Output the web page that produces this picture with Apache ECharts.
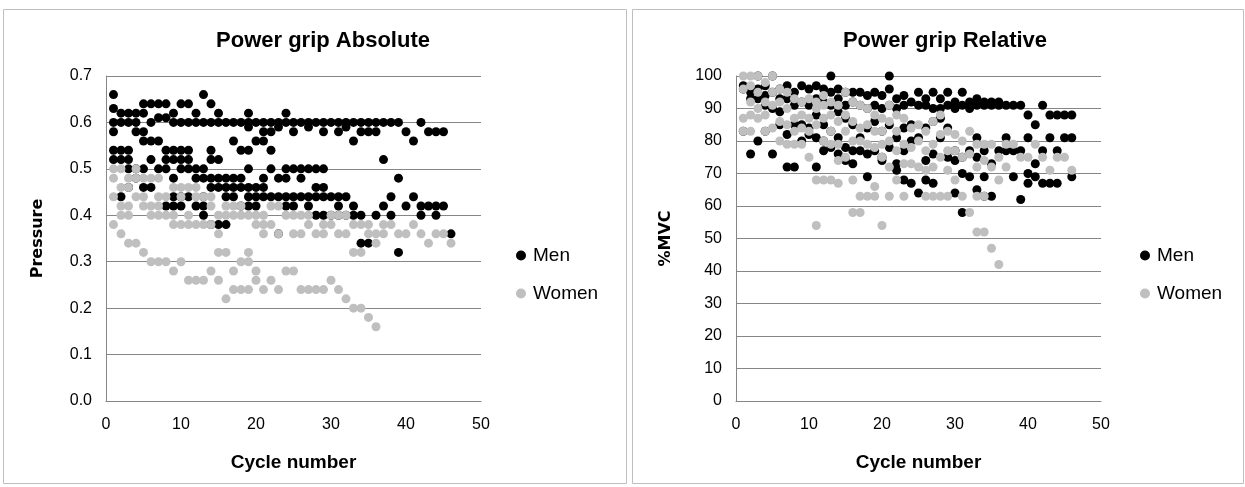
<!DOCTYPE html>
<html><head><meta charset="utf-8">
<script src="https://cdn.jsdelivr.net/npm/echarts@6/dist/echarts.min.js"></script>
<style>html,body{margin:0;padding:0;background:#fff}#c{width:1245px;height:487px}</style>
</head><body><div id="c"></div>
<script>
// Power grip Absolute (Pressure) — [cycle, value]
const menAbs = [
 [1,0.66],[1,0.63],[1,0.60],[1,0.58],[1,0.54],[1,0.52],
 [2,0.62],[2,0.60],[2,0.54],[2,0.52],[2,0.44],
 [3,0.62],[3,0.60],[3,0.54],[3,0.52],[3,0.50],[3,0.46],
 [4,0.62],[4,0.60],[4,0.58],[4,0.50],[4,0.48],
 [5,0.64],[5,0.62],[5,0.58],[5,0.56],[5,0.50],[5,0.46],
 [6,0.64],[6,0.60],[6,0.56],[6,0.52],[6,0.46],
 [7,0.64],[7,0.61],[7,0.56],[7,0.50],
 [8,0.64],[8,0.61],[8,0.54],[8,0.52],[8,0.50],[8,0.42],
 [9,0.62],[9,0.60],[9,0.54],[9,0.52],[9,0.48],[9,0.44],[9,0.42],
 [10,0.64],[10,0.60],[10,0.54],[10,0.52],[10,0.50],[10,0.44],[10,0.42],
 [11,0.64],[11,0.60],[11,0.54],[11,0.52],[11,0.50],[11,0.44],
 [12,0.62],[12,0.60],[12,0.50],[12,0.48],[12,0.42],
 [13,0.66],[13,0.60],[13,0.50],[13,0.48],[13,0.44],[13,0.42],[13,0.40],
 [14,0.64],[14,0.60],[14,0.54],[14,0.52],[14,0.48],[14,0.46],[14,0.38],
 [15,0.62],[15,0.60],[15,0.52],[15,0.48],[15,0.46],[15,0.38],
 [16,0.60],[16,0.48],[16,0.46],[16,0.44],[16,0.38],
 [17,0.60],[17,0.56],[17,0.48],[17,0.46],[17,0.44],
 [18,0.60],[18,0.54],[18,0.48],[18,0.46],[18,0.42],
 [19,0.62],[19,0.60],[19,0.59],[19,0.54],[19,0.50],[19,0.46],[19,0.44],[19,0.42],
 [20,0.60],[20,0.56],[20,0.46],[20,0.44],[20,0.42],
 [21,0.60],[21,0.58],[21,0.56],[21,0.48],[21,0.46],[21,0.44],
 [22,0.60],[22,0.58],[22,0.54],[22,0.50],[22,0.44],
 [23,0.60],[23,0.59],[23,0.48],[23,0.44],[23,0.36],
 [24,0.62],[24,0.60],[24,0.50],[24,0.48],[24,0.44],[24,0.42],
 [25,0.60],[25,0.58],[25,0.50],[25,0.44],[25,0.42],
 [26,0.60],[26,0.50],[26,0.48],[26,0.44],
 [27,0.60],[27,0.59],[27,0.50],[27,0.44],[27,0.42],
 [28,0.60],[28,0.50],[28,0.46],[28,0.44],[28,0.40],
 [29,0.60],[29,0.58],[29,0.50],[29,0.46],[29,0.44],[29,0.40],
 [30,0.60],[30,0.44],[30,0.40],
 [31,0.60],[31,0.58],[31,0.44],[31,0.42],[31,0.40],
 [32,0.60],[32,0.59],[32,0.44],[32,0.40],
 [33,0.60],[33,0.56],[33,0.42],[33,0.40],
 [34,0.60],[34,0.58],[34,0.40],[34,0.34],
 [35,0.60],[35,0.58],[35,0.34],
 [36,0.60],[36,0.58],[36,0.40],
 [37,0.60],[37,0.52],[37,0.42],
 [38,0.60],[38,0.44],[38,0.40],
 [39,0.60],[39,0.48],[39,0.32],
 [40,0.58],[40,0.42],
 [41,0.56],[41,0.44],
 [42,0.60],[42,0.42],[42,0.40],
 [43,0.58],[43,0.42],
 [44,0.58],[44,0.42],[44,0.40],
 [45,0.58],[45,0.42],
 [46,0.36]
];
const womenAbs = [
 [1,0.50],[1,0.48],[1,0.44],[1,0.38],
 [2,0.50],[2,0.46],[2,0.42],[2,0.40],[2,0.36],
 [3,0.48],[3,0.46],[3,0.42],[3,0.40],[3,0.34],
 [4,0.50],[4,0.48],[4,0.44],[4,0.34],
 [5,0.48],[5,0.44],[5,0.42],[5,0.32],
 [6,0.48],[6,0.42],[6,0.40],[6,0.30],
 [7,0.48],[7,0.44],[7,0.42],[7,0.40],[7,0.30],
 [8,0.44],[8,0.40],[8,0.30],
 [9,0.46],[9,0.40],[9,0.38],[9,0.28],
 [10,0.46],[10,0.44],[10,0.38],[10,0.30],
 [11,0.46],[11,0.40],[11,0.38],[11,0.26],
 [12,0.46],[12,0.44],[12,0.38],[12,0.26],
 [13,0.44],[13,0.38],[13,0.26],
 [14,0.44],[14,0.42],[14,0.38],[14,0.28],
 [15,0.40],[15,0.36],[15,0.32],[15,0.26],
 [16,0.42],[16,0.40],[16,0.32],[16,0.22],
 [17,0.42],[17,0.40],[17,0.28],[17,0.24],
 [18,0.42],[18,0.40],[18,0.30],[18,0.24],
 [19,0.40],[19,0.32],[19,0.30],[19,0.24],
 [20,0.40],[20,0.38],[20,0.28],[20,0.26],
 [21,0.40],[21,0.38],[21,0.36],[21,0.24],
 [22,0.42],[22,0.38],[22,0.26],
 [23,0.42],[23,0.36],[23,0.24],
 [24,0.40],[24,0.28],
 [25,0.40],[25,0.36],[25,0.28],
 [26,0.40],[26,0.36],[26,0.24],
 [27,0.40],[27,0.38],[27,0.24],
 [28,0.36],[28,0.24],
 [29,0.38],[29,0.36],[29,0.24],
 [30,0.40],[30,0.38],[30,0.26],
 [31,0.40],[31,0.36],[31,0.24],
 [32,0.40],[32,0.36],[32,0.22],
 [33,0.38],[33,0.32],[33,0.20],
 [34,0.38],[34,0.32],[34,0.20],
 [35,0.38],[35,0.36],[35,0.18],
 [36,0.36],[36,0.34],[36,0.16],
 [37,0.38],[37,0.36],
 [38,0.38],[39,0.36],[40,0.36],[41,0.38],[42,0.36],
 [43,0.34],[44,0.36],[45,0.36],[46,0.34]
];
// Power grip Relative (%MVC) — [cycle, value]
const menRel = [
 [1,97],[1,96],[1,83],
 [2,95],[2,93],[2,76],
 [3,100],[3,96],[3,93],[3,80],
 [4,97],[4,94],[4,91],[4,83],
 [5,100],[5,95],[5,90],[5,76],
 [6,96],[6,93],[6,89],[6,85],
 [7,97],[7,93],[7,82],[7,72],
 [8,95],[8,91],[8,85],[8,72],
 [9,97],[9,92],[9,85],[9,80],
 [10,96],[10,91],[10,84],[10,82],
 [11,97],[11,93],[11,88],[11,81],[11,72],
 [12,96],[12,92],[12,85],[12,80],[12,77],
 [13,100],[13,95],[13,91],[13,83],[13,78],
 [14,96],[14,93],[14,89],[14,81],[14,76],
 [15,95],[15,91],[15,87],[15,78],[15,74],
 [16,95],[16,92],[16,85],[16,77],[16,73],
 [17,95],[17,91],[17,81],[17,77],
 [18,94],[18,90],[18,84],[18,76],[18,69],
 [19,95],[19,91],[19,86],[19,77],
 [20,94],[20,90],[20,83],[20,75],[20,74],
 [21,100],[21,96],[21,91],[21,85],[21,78],
 [22,93],[22,90],[22,81],[22,73],[22,71],
 [23,94],[23,91],[23,84],[23,77],[23,68],
 [24,92],[24,85],[24,80],[24,67],
 [25,95],[25,91],[25,81],[25,64],
 [26,93],[26,91],[26,84],[26,74],[26,68],
 [27,95],[27,90],[27,86],[27,76],[27,67],
 [28,93],[28,90],[28,87],[28,81],
 [29,95],[29,91],[29,84],[29,75],
 [30,92],[30,90],[30,77],[30,74],[30,64],
 [31,95],[31,91],[31,75],[31,70],[31,58],
 [32,92],[32,90],[32,77],[32,69],
 [33,93],[33,91],[33,81],[33,75],[33,65],
 [34,92],[34,91],[34,77],[34,69],[34,63],
 [35,92],[35,91],[35,73],[35,63],
 [36,92],[36,91],[36,77],
 [37,91],[37,81],[37,77],
 [38,91],[38,77],[38,69],
 [39,91],[39,77],[39,62],
 [40,88],[40,81],[40,70],[40,67],
 [41,85],[41,73],[41,69],
 [42,91],[42,77],[42,67],
 [43,88],[43,81],[43,67],
 [44,88],[44,77],[44,67],
 [45,88],[45,81],
 [46,88],[46,81],[46,69]
];
const womenRel = [
 [1,100],[1,96],[1,87],[1,83],
 [2,100],[2,97],[2,92],[2,88],[2,83],
 [3,100],[3,95],[3,90],[3,87],
 [4,98],[4,92],[4,88],[4,83],
 [5,100],[5,95],[5,91],[5,84],
 [6,96],[6,92],[6,86],[6,80],
 [7,95],[7,90],[7,85],[7,79],
 [8,93],[8,87],[8,83],[8,79],
 [9,92],[9,88],[9,84],[9,79],
 [10,93],[10,87],[10,83],[10,75],
 [11,92],[11,90],[11,85],[11,68],[11,54],
 [12,94],[12,91],[12,87],[12,80],[12,68],
 [13,92],[13,88],[13,83],[13,79],[13,68],
 [14,91],[14,86],[14,79],[14,74],[14,67],
 [15,95],[15,88],[15,83],[15,75],
 [16,92],[16,86],[16,80],[16,68],[16,58],
 [17,91],[17,84],[17,80],[17,63],[17,58],
 [18,90],[18,85],[18,79],[18,63],
 [19,88],[19,83],[19,78],[19,66],[19,63],
 [20,87],[20,83],[20,79],[20,75],[20,54],
 [21,91],[21,86],[21,80],[21,72],[21,63],
 [22,88],[22,83],[22,77],[22,68],
 [23,87],[23,79],[23,73],[23,63],
 [24,84],[24,78],[24,73],
 [25,85],[25,80],[25,72],
 [26,83],[26,77],[26,71],[26,63],
 [27,86],[27,79],[27,72],[27,63],
 [28,88],[28,82],[28,75],[28,63],
 [29,83],[29,77],[29,71],[29,63],
 [30,82],[30,77],[30,68],
 [31,80],[31,75],[31,63],
 [32,83],[32,76],[32,58],
 [33,79],[33,72],[33,63],[33,52],
 [34,79],[34,74],[34,63],[34,52],
 [35,79],[35,72],[35,47],
 [36,75],[36,68],[36,42],
 [37,79],[37,72],
 [38,79],[39,75],[40,75],[41,79],[42,75],
 [43,71],[44,75],[45,75],[46,71]
];
const xTicks = {min: 0, max: 50, interval: 10};
const absTicks = {min: 0, max: 0.7, interval: 0.1};
const relTicks = {min: 0, max: 100, interval: 10};
const titles = ['Power grip Absolute', 'Power grip Relative'];
const yNames = ['Pressure', '%MVC'];
const xName = 'Cycle number';
const seriesNames = ['Men', 'Women'];

const FONT = '"Liberation Sans Narrow", "Liberation Sans", Arial, sans-serif';
const GRID = '#868686';
const MEN = '#000000', WOMEN = '#bfbfbf';

const chart = echarts.init(document.getElementById('c'), null, {renderer: 'canvas'});

function xAx(gi) {
  return {
    type: 'value', gridIndex: gi, min: xTicks.min, max: xTicks.max, interval: xTicks.interval,
    name: xName, nameLocation: 'middle', nameGap: 52,
    nameTextStyle: {fontFamily: FONT, fontWeight: 'bold', fontSize: 19, color: '#000'},
    axisLine: {show: true, lineStyle: {color: GRID}}, axisTick: {show: false},
    splitLine: {show: false},
    axisLabel: {fontFamily: FONT, fontSize: 16, color: '#000', margin: 16}
  };
}
function yAx(gi, t, name, fmt, gap) {
  return {
    type: 'value', gridIndex: gi, min: t.min, max: t.max, interval: t.interval,
    name: name, nameLocation: 'middle', nameGap: gap, nameRotate: 90,
    nameTextStyle: {fontFamily: '"DejaVu Sans", sans-serif', fontWeight: 'bold', fontSize: 16, color: '#000'},
    axisLine: {show: true, lineStyle: {color: GRID}}, axisTick: {show: false},
    splitLine: {show: true, lineStyle: {color: GRID, width: 1}},
    axisLabel: {fontFamily: FONT, fontSize: 16, color: '#000', margin: 14, formatter: fmt}
  };
}
function sc(name, data, gi, color) {
  return {
    type: 'scatter', name: name, xAxisIndex: gi, yAxisIndex: gi, data: data,
    symbol: 'circle', symbolSize: 9, itemStyle: {color: color, opacity: 1},
    emphasis: {disabled: true}, animation: false
  };
}

chart.setOption({
  animation: false,
  backgroundColor: '#ffffff',
  graphic: [
    {type: 'rect', shape: {x: 3.5, y: 9.5, width: 623, height: 474}, style: {fill: 'none', stroke: '#bfbfbf', lineWidth: 1}, silent: true},
    {type: 'rect', shape: {x: 632.5, y: 9.5, width: 611, height: 474}, style: {fill: 'none', stroke: '#bfbfbf', lineWidth: 1}, silent: true}
  ],
  title: [
    {text: titles[0], left: 318, top: 25, textAlign: 'center',
     textStyle: {fontFamily: FONT, fontWeight: 'bold', fontSize: 22, color: '#000'}},
    {text: titles[1], left: 940, top: 25, textAlign: 'center',
     textStyle: {fontFamily: FONT, fontWeight: 'bold', fontSize: 22, color: '#000'}}
  ],
  legend: [
    {orient: 'vertical', left: 511, top: 241, itemGap: 19, itemWidth: 10, itemHeight: 10,
     icon: 'circle', data: seriesNames, textStyle: {fontFamily: FONT, fontSize: 19, color: '#000', padding: [0, 0, 0, 2]},
     selectedMode: false},
    {orient: 'vertical', left: 1135, top: 241, itemGap: 19, itemWidth: 10, itemHeight: 10,
     icon: 'circle', data: seriesNames, textStyle: {fontFamily: FONT, fontSize: 19, color: '#000', padding: [0, 0, 0, 2]},
     selectedMode: false}
  ],
  grid: [
    {left: 106, top: 76, width: 375, height: 325},
    {left: 736, top: 76, width: 365, height: 325}
  ],
  xAxis: [xAx(0), xAx(1)],
  yAxis: [
    yAx(0, absTicks, yNames[0], v => v.toFixed(1), 60),
    yAx(1, relTicks, yNames[1], v => String(Math.round(v)), 62)
  ],
  series: [
    sc(seriesNames[0], menAbs, 0, MEN),
    sc(seriesNames[1], womenAbs, 0, WOMEN),
    sc(seriesNames[0], menRel, 1, MEN),
    sc(seriesNames[1], womenRel, 1, WOMEN)
  ]
});
</script></body></html>
